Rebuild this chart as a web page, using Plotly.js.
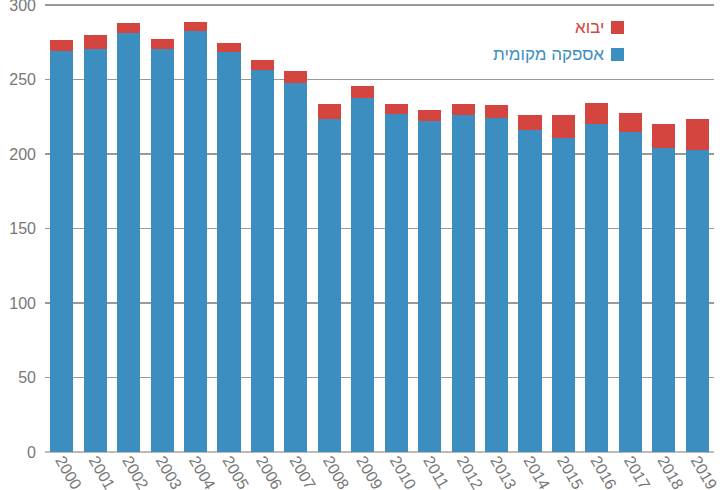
<!DOCTYPE html>
<html>
<head>
<meta charset="utf-8">
<script src="https://cdn.plot.ly/plotly-3.0.1.min.js"></script>
<style>
  html, body { margin: 0; padding: 0; background: #fff; }
  #chart { width: 720px; height: 490px; }
</style>
</head>
<body>
<div id="chart"></div>
<script>
// years on the x axis
const years = ['2000', '2001', '2002', '2003', '2004', '2005', '2006', '2007', '2008', '2009',
    '2010', '2011', '2012', '2013', '2014', '2015', '2016', '2017', '2018', '2019']

// local supply (blue, bottom)
const localSupply = [269, 270.5, 281, 270.5, 283, 268.5, 256.5, 248, 223.5, 238,
    227, 222, 226, 224.5, 216, 211, 220, 215, 204, 203]

const totals = [276.5, 280, 288, 277, 289, 274.5, 263, 255.5, 233.5, 245.5,
    233.5, 229.5, 233.5, 233, 226.5, 226, 234, 227.5, 220.5, 223.5]
const imports = totals.map((t, i) => +(t - localSupply[i]).toFixed(1))

const localName = 'אספקה מקומית'
const importName = 'יבוא'
const blue = '#3d8ec0'
const red = '#d5453f'

const traces = [
    {
        x: years,
        y: localSupply,
        type: 'bar',
        name: localName,
        marker: { color: blue },
        hoverinfo: 'y+name',
    },
    {
        x: years,
        y: imports,
        type: 'bar',
        name: importName,
        marker: { color: red },
        hoverinfo: 'y+name',
    }
]

// legend is drawn right-to-left: text then square on its right
const legendItems = [
    { name: importName, color: red, y: 27.5 },
    { name: localName, color: blue, y: 54.5 },
]

const plotTop = 4, plotH = 448, plotL = 45, plotW = 669

const layout = {
    width: 720,
    height: 490,
    margin: { l: plotL, r: 720 - plotL - plotW, t: plotTop, b: 490 - plotTop - plotH },
    paper_bgcolor: '#fff',
    plot_bgcolor: '#fff',
    barmode: 'stack',
    bargap: 0.31,
    showlegend: false,
    font: { family: 'Liberation Sans, Arial, sans-serif', size: 16, color: '#777' },
    xaxis: {
        type: 'category',
        tickangle: 60,
        ticks: '',
        showgrid: false,
        showline: false,
        tickfont: { size: 16, color: '#777' },
        ticklabelstandoff: -5,
        ticklabeloverflow: 'allow',
        fixedrange: true,
    },
    yaxis: {
        range: [0, 300.8],
        dtick: 50,
        tick0: 0,
        ticks: '',
        showgrid: true,
        gridcolor: '#999',
        gridwidth: 1.5,
        zeroline: true,
        zerolinecolor: '#bbb',
        zerolinewidth: 2,
        showline: false,
        tickfont: { size: 16, color: '#777' },
        ticklabelstandoff: 8,
        ticklabeloverflow: 'allow',
        fixedrange: true,
    },
    annotations: legendItems.map(it => ({
        xref: 'paper', yref: 'paper',
        x: (606 - plotL) / plotW,
        y: 1 - (it.y - plotTop) / plotH,
        xanchor: 'right', yanchor: 'middle',
        text: it.name,
        showarrow: false,
        font: { size: 17, color: it.color },
    })),
    shapes: legendItems.map(it => ({
        type: 'rect',
        xref: 'paper', yref: 'paper',
        x0: (611 - plotL) / plotW, x1: (624 - plotL) / plotW,
        y0: 1 - (it.y + 6.5 - plotTop) / plotH, y1: 1 - (it.y - 6.5 - plotTop) / plotH,
        fillcolor: it.color,
        line: { width: 0 },
    })),
}

Plotly.newPlot('chart', traces, layout, { displayModeBar: false, staticPlot: true })
</script>
</body>
</html>
